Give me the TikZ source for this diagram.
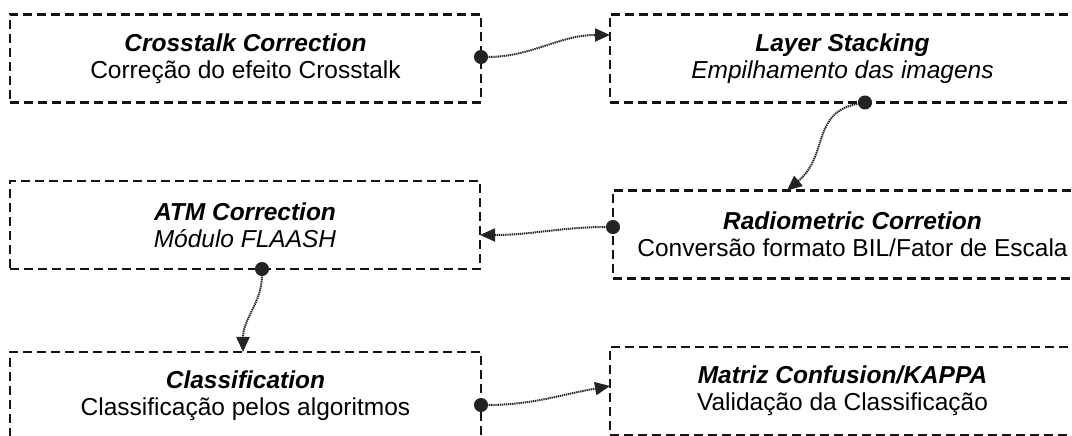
\documentclass[tikz,border=0pt]{standalone}
\usepackage{fontspec}
\setmainfont{Liberation Sans}
\usetikzlibrary{arrows.meta}
\definecolor{framegray}{RGB}{20,20,20}
\definecolor{flowgray}{RGB}{35,35,35}

\begin{document}
\begin{tikzpicture}[x=1pt, y=1pt,
    stage/.style={draw=framegray, line width=2.6pt, dash pattern=on 9pt off 5pt,
                  align=center, inner sep=0pt, outer sep=0pt,
                  minimum height=88pt, font=\fontsize{24.5}{27}\selectfont},
    flow/.style={draw=flowgray, line width=2pt, dash pattern=on 1.3pt off 0.8pt,
                 shorten <=-7pt,
                 {Circle[length=14pt]}-{Triangle[length=15pt,width=13pt]}}
]
\useasboundingbox (0,0) rectangle (1072,436);
\node[stage, minimum width=471pt] (xtalk) at (245.5,377.5)
    {\textbf{\textit{Crosstalk Correction}}\\Correção do efeito Crosstalk};
\node[stage, minimum width=465pt] (stack) at (842.5,377.5)
    {\textbf{\textit{Layer Stacking}}\\\textit{Empilhamento das imagens}};
\node[stage, minimum width=470pt] (atm) at (245,211)
    {\textbf{\textit{ATM Correction}}\\\textit{Módulo FLAASH}};
\node[stage, minimum width=479pt] (radio) at (852.5,201.5)
    {\textbf{\textit{Radiometric Corretion}}\\Conversão formato BIL/Fator de Escala};
\node[stage, minimum width=471pt] (classif) at (245.5,40)
    {\textbf{\textit{Classification}}\\Classificação pelos algoritmos};
\node[stage, minimum width=465pt] (kappa) at (842.5,45)
    {\textbf{\textit{Matriz Confusion/KAPPA}}\\Validação da Classificação};
\draw[flow] ([yshift=1.5pt]xtalk.east) to[out=0, in=180] ([yshift=23.5pt]stack.west);
\draw[flow] ([xshift=22.5pt]stack.south) to[out=190, in=40, looseness=1.2] ([xshift=-65.5pt]radio.north);
\draw[flow] ([yshift=7.5pt]radio.west) to[out=180, in=0] ([yshift=-10pt]atm.east);
\draw[flow] ([xshift=17pt]atm.south) to[out=-90, in=90] ([xshift=-2.5pt]classif.north);
\draw[flow] ([yshift=-9pt]classif.east) to[out=0, in=190] ([yshift=5pt]kappa.west);
\end{tikzpicture}
\end{document}
